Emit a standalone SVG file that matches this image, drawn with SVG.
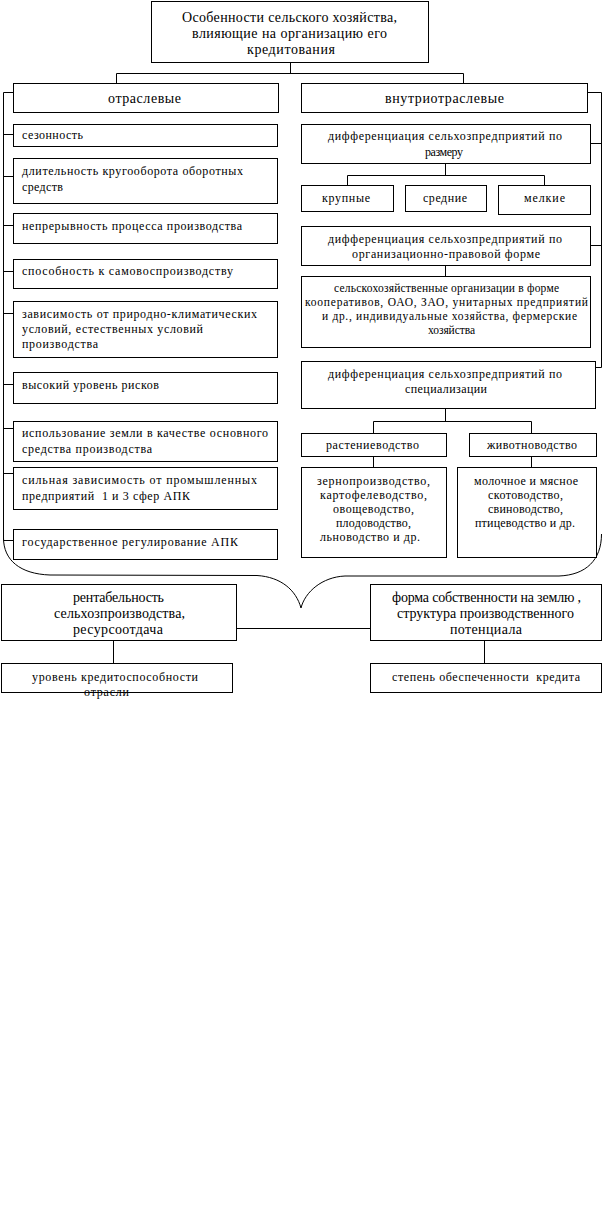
<svg xmlns="http://www.w3.org/2000/svg" width="604" height="1213" viewBox="0 0 604 1213">
<style>
rect{fill:#fff;stroke:#000;stroke-width:1}
.c{fill:none;stroke:#000;stroke-width:1}
text{font-family:"Liberation Serif","Times New Roman",serif;fill:#000}
.s{font-size:11.5px}
.m{font-size:12px}
.l{font-size:14px}
.mid{text-anchor:middle}
</style>
<rect x="0" y="0" width="604" height="1213" style="fill:#fff;stroke:none"/>
<g id="connectors">
<path class="c" d="M290.5 62V73.5M116.5 83V73.5H463.5V83"/>
<path class="c" d="M13 92.5H3.5V540M3.5 134.5H13M3.5 176.5H13M3.5 225.5H13M3.5 271.5H13M3.5 313.5H13M3.5 384.5H13M3.5 428.5H13M3.5 473.5H13M3.5 540.5H13"/>
<path class="c" d="M588 92.5H601.5V367.5H596M590 143.5H601.5M590 245.5H601.5"/>
<path class="c" d="M445.5 164V175.5M347.5 185V175.5H544.5V185M445.5 266V276"/>
<path class="c" d="M445.5 409V421.5M373.5 433V421.5H531.5V433M373.5 457V467M531.5 457V467"/>
<path class="c" d="M3.5 538C3.5 560 20 574 50 575L257 575.5C281 577 296 590 301 608"/>
<path class="c" d="M601.5 534C601.5 560 586 575 559 576L345 576C322 577 305 592 301 608"/>
<path class="c" d="M237 628.5H370M113.5 641V663M484.5 641V663"/>
</g>
<g id="top"><rect x="151.5" y="1.5" width="277" height="61"/>
<text class="l" x="182" y="22" textLength="215" lengthAdjust="spacing">Особенности сельского хозяйства,</text>
<text class="l" x="192" y="38" textLength="195" lengthAdjust="spacing">влияющие на организацию его</text>
<text class="l" x="247" y="54" textLength="88" lengthAdjust="spacing">кредитования</text></g>
<g id="otr"><rect x="13.5" y="83.5" width="265" height="29"/><text class="l" x="108" y="103" textLength="73" lengthAdjust="spacing">отраслевые</text></g>
<g id="vnutr"><rect x="301.5" y="83.5" width="286" height="29"/><text class="l" x="385" y="103" textLength="119" lengthAdjust="spacing">внутриотраслевые</text></g>
<g id="l1"><rect x="13.5" y="124.5" width="264" height="22"/><text class="m" x="22" y="139" textLength="61" lengthAdjust="spacing">сезонность</text></g>
<g id="l2"><rect x="13.5" y="158.5" width="264" height="45"/><text class="m" x="22" y="175" textLength="221" lengthAdjust="spacing">длительность кругооборота оборотных</text><text class="m" x="22" y="191" textLength="41" lengthAdjust="spacing">средств</text></g>
<g id="l3"><rect x="13.5" y="213.5" width="264" height="30"/><text class="m" x="22" y="230" textLength="220" lengthAdjust="spacing">непрерывность процесса производства</text></g>
<g id="l4"><rect x="13.5" y="259.5" width="264" height="29"/><text class="m" x="22" y="275" textLength="211" lengthAdjust="spacing">способность к самовоспроизводству</text></g>
<g id="l5"><rect x="13.5" y="301.5" width="264" height="56"/><text class="m" x="22" y="318" textLength="235" lengthAdjust="spacing">зависимость от природно-климатических</text><text class="m" x="22" y="333" textLength="181" lengthAdjust="spacing">условий, естественных условий</text><text class="m" x="22" y="348" textLength="76" lengthAdjust="spacing">производства</text></g>
<g id="l6"><rect x="13.5" y="372.5" width="264" height="31"/><text class="m" x="22" y="389" textLength="137" lengthAdjust="spacing">высокий уровень рисков</text></g>
<g id="l7"><rect x="13.5" y="421.5" width="264" height="40"/><text class="m" x="22" y="437" textLength="246" lengthAdjust="spacing">использование земли в качестве основного</text><text class="m" x="22" y="453" textLength="130" lengthAdjust="spacing">средства производства</text></g>
<g id="l8"><rect x="13.5" y="467.5" width="264" height="42"/><text class="m" x="22" y="484" textLength="235" lengthAdjust="spacing">сильная зависимость от промышленных</text><text class="m" x="22" y="500" textLength="168" lengthAdjust="spacing" xml:space="preserve">предприятий  1 и 3 сфер АПК</text></g>
<g id="l9"><rect x="13.5" y="529.5" width="264" height="30"/><text class="m" x="22" y="546" textLength="216" lengthAdjust="spacing">государственное регулирование АПК</text></g>
<g id="r1"><rect x="301.5" y="124.5" width="289" height="39"/><text class="m" x="328" y="140" textLength="234" lengthAdjust="spacing">дифференциация сельхозпредприятий по</text><text class="m" x="425" y="156" textLength="38" lengthAdjust="spacing">размеру</text></g>
<g id="r2"><rect x="301.5" y="185.5" width="92" height="26"/><text class="m" x="322" y="202" textLength="48" lengthAdjust="spacing">крупные</text></g>
<g id="r3"><rect x="405.5" y="185.5" width="81" height="26"/><text class="m" x="423" y="202" textLength="44" lengthAdjust="spacing">средние</text></g>
<g id="r4"><rect x="498.5" y="185.5" width="92" height="29"/><text class="m" x="524" y="202" textLength="41" lengthAdjust="spacing">мелкие</text></g>
<g id="r5"><rect x="301.5" y="226.5" width="289" height="39"/><text class="m" x="328" y="243" textLength="234" lengthAdjust="spacing">дифференциация сельхозпредприятий по</text><text class="m" x="352" y="258" textLength="188" lengthAdjust="spacing">организационно-правовой форме</text></g>
<g id="r6"><rect x="301.5" y="276.5" width="289" height="71"/><text class="s" x="334" y="292" textLength="225" lengthAdjust="spacing">сельскохозяйственные организации в форме</text><text class="s" x="305" y="306" textLength="283" lengthAdjust="spacing">кооперативов, ОАО, ЗАО, унитарных предприятий</text><text class="s" x="322" y="320" textLength="255" lengthAdjust="spacing">и др., индивидуальные хозяйства, фермерские</text><text class="s" x="428" y="334" textLength="47" lengthAdjust="spacing">хозяйства</text></g>
<g id="r7"><rect x="301.5" y="361.5" width="294" height="47"/><text class="m" x="328" y="378" textLength="234" lengthAdjust="spacing">дифференциация сельхозпредприятий по</text><text class="m" x="405" y="393" textLength="82" lengthAdjust="spacing">специализации</text></g>
<g id="r8"><rect x="301.5" y="433.5" width="145" height="23"/><text class="m" x="326" y="449" textLength="93" lengthAdjust="spacing">растениеводство</text></g>
<g id="r9"><rect x="469.5" y="433.5" width="127" height="23"/><text class="m" x="487" y="449" textLength="90" lengthAdjust="spacing">животноводство</text></g>
<g id="r10"><rect x="301.5" y="467.5" width="145" height="90"/><text class="m" x="317" y="485" textLength="113" lengthAdjust="spacing">зернопроизводство,</text><text class="m" x="320" y="499" textLength="107" lengthAdjust="spacing">картофелеводство,</text><text class="m" x="333" y="513" textLength="81" lengthAdjust="spacing">овощеводство,</text><text class="m" x="336" y="527" textLength="75" lengthAdjust="spacing">плодоводство,</text><text class="m" x="320" y="541" textLength="100" lengthAdjust="spacing">льноводство и др.</text></g>
<g id="r11"><rect x="457.5" y="467.5" width="139" height="90"/><text class="m" x="474" y="485" textLength="104" lengthAdjust="spacing">молочное и мясное</text><text class="m" x="488" y="499" textLength="75" lengthAdjust="spacing">скотоводство,</text><text class="m" x="488" y="513" textLength="75" lengthAdjust="spacing">свиноводство,</text><text class="m" x="475" y="527" textLength="100" lengthAdjust="spacing">птицеводство и др.</text></g>
<g id="b1"><rect x="1.5" y="584.5" width="235" height="56"/><text class="l" x="73" y="602" textLength="91" lengthAdjust="spacing">рентабельность</text><text class="l" x="54" y="618" textLength="131" lengthAdjust="spacing">сельхозпроизводства,</text><text class="l" x="73" y="634" textLength="90" lengthAdjust="spacing">ресурсоотдача</text></g>
<g id="b2"><rect x="370.5" y="584.5" width="231" height="56"/><text class="l" x="392" y="602" textLength="189" lengthAdjust="spacing">форма собственности на землю ,</text><text class="l" x="397" y="618" textLength="177" lengthAdjust="spacing">структура производственного</text><text class="l" x="450" y="634" textLength="72" lengthAdjust="spacing">потенциала</text></g>
<g id="b3"><rect x="1.5" y="663.5" width="231" height="29"/><text class="m" x="32" y="681" textLength="166" lengthAdjust="spacing">уровень кредитоспособности</text><text class="m" x="84" y="696" textLength="45" lengthAdjust="spacing">отрасли</text></g>
<g id="b4"><rect x="370.5" y="663.5" width="231" height="29"/><text class="m" x="392" y="681" textLength="188" lengthAdjust="spacing" xml:space="preserve">степень обеспеченности  кредита</text></g>
</svg>
